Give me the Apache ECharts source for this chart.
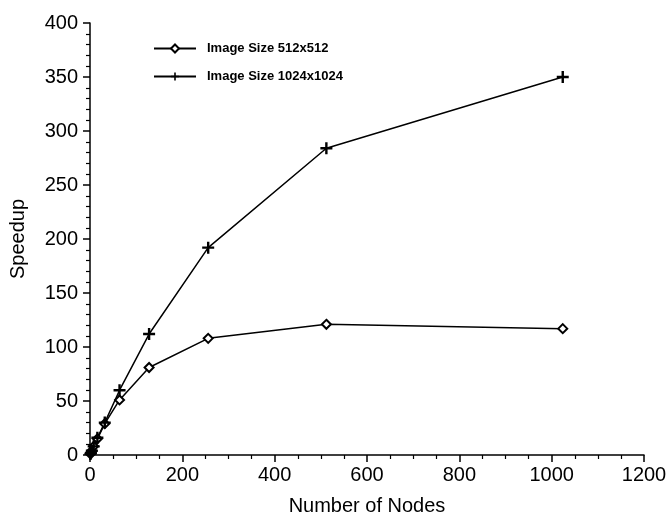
<!DOCTYPE html>
<html>
<head>
<meta charset="utf-8">
<script src="https://cdn.jsdelivr.net/npm/echarts@6/dist/echarts.min.js"></script>
<style>
  html, body { margin: 0; padding: 0; background: #fff; }
  #chart { width: 672px; height: 518px; }
</style>
</head>
<body>
<div id="chart"></div>
<script>
// number of nodes
const nodes = [1, 2, 4, 8, 16, 32, 64, 128, 256, 512, 1024]
// speedup for each image size
const speedup512 = [1, 2, 4, 8, 15, 29, 51, 81, 108, 121, 117]
const speedup1024 = [1, 2, 4, 8, 16, 30, 60, 112, 192, 284, 350]
const seriesNames = ['Image Size 512x512', 'Image Size 1024x1024']

const font = 'Liberation Sans, Arial, sans-serif'
const plusPath = 'path://M4,0H6V4H10V6H6V10H4V6H0V4H4Z'

function pairs (xs, ys) {
    return xs.map(function (x, i) {
        return [x, ys[i]]
    })
}

const myChart = echarts.init(document.getElementById('chart'))

const option = {
    animation: false,
    backgroundColor: '#fff',
    grid: {
        left: 90,
        right: 28,
        top: 23,
        bottom: 63,
        containLabel: false,
        outerBoundsMode: 'none'
    },
    legend: {
        orient: 'vertical',
        left: 148,
        top: 37,
        itemGap: 15,
        itemWidth: 42,
        itemHeight: 10,
        textStyle: { fontFamily: font, fontSize: 13, fontWeight: 'bold', color: '#000', padding: [0, 0, 0, 6] },
        data: seriesNames
    },
    xAxis: {
        type: 'value',
        min: 0,
        max: 1200,
        interval: 200,
        name: 'Number of Nodes',
        nameLocation: 'middle',
        nameGap: 41,
        nameTextStyle: { fontFamily: font, fontSize: 20, color: '#000' },
        axisLine: { lineStyle: { color: '#000', width: 1.5 } },
        axisTick: { show: true, length: 7, lineStyle: { color: '#000', width: 1.5 } },
        minorTick: { show: true, splitNumber: 4, length: 4, lineStyle: { color: '#000', width: 1.2 } },
        axisLabel: {
            fontFamily: font, fontSize: 20, color: '#000', margin: 10,
            formatter: function (v) { return String(v) }
        },
        splitLine: { show: false }
    },
    yAxis: {
        type: 'value',
        min: 0,
        max: 400,
        interval: 50,
        name: 'Speedup',
        nameLocation: 'middle',
        nameGap: 62,
        nameTextStyle: { fontFamily: font, fontSize: 20, color: '#000' },
        axisLine: { show: true, lineStyle: { color: '#000', width: 1.5 } },
        axisTick: { show: true, length: 7, lineStyle: { color: '#000', width: 1.5 } },
        minorTick: { show: true, splitNumber: 5, length: 4, lineStyle: { color: '#000', width: 1.2 } },
        axisLabel: {
            fontFamily: font, fontSize: 20, color: '#000', margin: 12,
            formatter: function (v) { return String(v) }
        },
        splitLine: { show: false }
    },
    series: [
        {
            name: seriesNames[0],
            type: 'line',
            data: pairs(nodes, speedup512),
            symbol: 'diamond',
            symbolSize: 9,
            showAllSymbol: true,
            color: '#000',
            lineStyle: { color: '#000', width: 1.5 },
            itemStyle: { color: '#fff', borderColor: '#000', borderWidth: 2 }
        },
        {
            name: seriesNames[1],
            type: 'line',
            data: pairs(nodes, speedup1024),
            symbol: plusPath,
            symbolSize: 12,
            showAllSymbol: true,
            color: '#000',
            lineStyle: { color: '#000', width: 1.5 },
            itemStyle: { color: '#000', borderWidth: 0 }
        }
    ]
}
option && myChart.setOption(option)
</script>
</body>
</html>
